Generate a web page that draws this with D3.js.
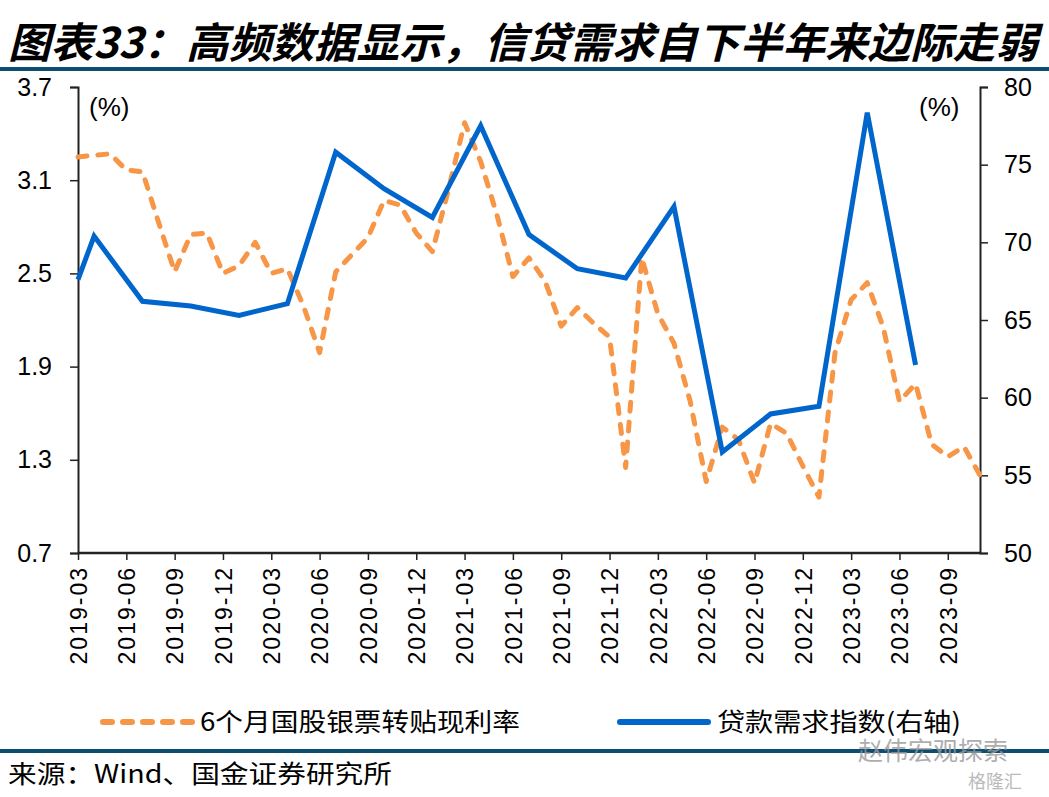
<!DOCTYPE html>
<html><head><meta charset="utf-8">
<script src="https://cdn.jsdelivr.net/npm/d3@7/dist/d3.min.js"></script>
<style>
html,body{margin:0;padding:0;background:#fff;}
svg{display:block;}
</style></head>
<body>
<svg id="c" width="1049" height="797"></svg>
<script>
const months = ["2019-03","2019-04","2019-05","2019-06","2019-07","2019-08","2019-09","2019-10","2019-11","2019-12",
"2020-01","2020-02","2020-03","2020-04","2020-05","2020-06","2020-07","2020-08","2020-09","2020-10","2020-11","2020-12",
"2021-01","2021-02","2021-03","2021-04","2021-05","2021-06","2021-07","2021-08","2021-09","2021-10","2021-11","2021-12",
"2022-01","2022-02","2022-03","2022-04","2022-05","2022-06","2022-07","2022-08","2022-09","2022-10","2022-11","2022-12",
"2023-01","2023-02","2023-03","2023-04","2023-05","2023-06","2023-07","2023-08","2023-09","2023-10","2023-11"];
const billRate = [3.25,3.26,3.27,3.165,3.155,2.83,2.51,2.75,2.76,2.50,
2.55,2.70,2.50,2.53,2.29,1.99,2.51,2.62,2.73,2.97,2.94,2.76,
2.64,3.04,3.47,3.22,2.88,2.48,2.60,2.45,2.16,2.28,2.18,2.09,
1.25,2.60,2.24,2.05,1.68,1.16,1.51,1.43,1.15,1.535,1.47,1.26,
1.06,1.99,2.33,2.44,2.15,1.675,1.79,1.40,1.32,1.385,1.20];
const loanMonths = ["2019-03","2019-04","2019-07","2019-10","2020-01","2020-04","2020-07","2020-10","2021-01","2021-04",
"2021-07","2021-10","2022-01","2022-04","2022-07","2022-10","2023-01","2023-04","2023-07"];
const loanDemand = [67.6,70.4,66.2,65.9,65.3,66.05,75.8,73.45,71.6,77.5,70.5,68.3,67.7,72.3,56.5,58.95,59.45,78.35,62.1];
const xTickLabels = ["2019-03","2019-06","2019-09","2019-12","2020-03","2020-06","2020-09","2020-12","2021-03","2021-06",
"2021-09","2021-12","2022-03","2022-06","2022-09","2022-12","2023-03","2023-06","2023-09"];
const leftTicks = [0.7,1.3,1.9,2.5,3.1,3.7];
const rightTicks = [50,55,60,65,70,75,80];
const titleText = "图表33：高频数据显示，信贷需求自下半年来边际走弱";
const legendNames = ["6个月国股银票转贴现利率","贷款需求指数(右轴)"];
const sourceText = "来源：Wind、国金证券研究所";

const ORANGE = "#F79646", BLUE = "#0066CC", HEAD = "#0D4D70";
const numFont = "'Liberation Sans', Arial, sans-serif";
const cjkFont = "'Noto Sans CJK SC', sans-serif";

const svg = d3.select("#c");
const L = 78, R = 980, T = 87, B = 553;

const x = d3.scalePoint().domain(months).range([L, R]);
const yL = d3.scaleLinear().domain([0.7, 3.7]).range([B, T]);
const yR = d3.scaleLinear().domain([50, 80]).range([B, T]);

// title
svg.append("text").attr("x", 8).attr("y", 58)
  .attr("font-family", cjkFont).attr("font-weight", 700).attr("font-style", "italic")
  .attr("font-size", 42).attr("fill", "#000")
  .attr("textLength", 1030).attr("lengthAdjust", "spacingAndGlyphs")
  .text(titleText);
svg.append("rect").attr("x", 0).attr("y", 67).attr("width", 1049).attr("height", 4).attr("fill", HEAD);

// axes
const gL = svg.append("g").attr("transform", `translate(${L},0)`)
  .call(d3.axisLeft(yL).tickValues(leftTicks).tickSize(8).tickPadding(6).tickFormat(d3.format(".1f")));
const gR = svg.append("g").attr("transform", `translate(${R},0)`)
  .call(d3.axisRight(yR).tickValues(rightTicks).tickSize(8).tickPadding(16).tickFormat(d3.format("d")));
[gL, gR].forEach(g => {
  g.select(".domain").attr("stroke", "#222").attr("stroke-width", 2);
  g.selectAll(".tick line").attr("stroke", "#222").attr("stroke-width", 1.5);
  g.selectAll("text").attr("font-family", numFont).attr("font-size", 25).attr("fill", "#000");
});
gL.selectAll("text").attr("x", -26);

const gB = svg.append("g").attr("transform", `translate(0,${B})`)
  .call(d3.axisBottom(x).tickValues(xTickLabels).tickSize(7).tickSizeOuter(0));
gB.select(".domain").attr("stroke", "#222").attr("stroke-width", 2.5).attr("d", `M${L},0H${R}`);
gB.selectAll(".tick line").attr("stroke", "#222").attr("stroke-width", 1.5);
gB.selectAll("text")
  .attr("font-family", numFont).attr("font-size", 23).attr("fill", "#000")
  .attr("letter-spacing", 2)
  .attr("transform", "rotate(-90)")
  .attr("text-anchor", "end").attr("dy", "0.36em").attr("x", -13).attr("y", 0);

// unit labels
svg.append("text").attr("x", 89).attr("y", 116).attr("font-family", numFont).attr("font-size", 26).text("(%)");
svg.append("text").attr("x", 919).attr("y", 116).attr("font-family", numFont).attr("font-size", 26).text("(%)");

// lines
const lineL = d3.line().x((d, i) => x(months[i])).y(d => yL(d));
svg.append("path").datum(billRate).attr("d", lineL)
  .attr("fill", "none").attr("stroke", ORANGE).attr("stroke-width", 5)
  .attr("stroke-dasharray", "9,11").attr("stroke-linecap", "round").attr("stroke-linejoin", "round");

const lineR = d3.line().x((d, i) => x(loanMonths[i])).y(d => yR(d));
svg.append("path").datum(loanDemand).attr("d", lineR)
  .attr("fill", "none").attr("stroke", BLUE).attr("stroke-width", 5).attr("stroke-linejoin", "miter");

// legend
const ly = 722;
svg.append("line").attr("x1", 103).attr("x2", 192).attr("y1", ly).attr("y2", ly)
  .attr("stroke", ORANGE).attr("stroke-width", 6).attr("stroke-dasharray", "9,11").attr("stroke-linecap", "round");
svg.append("text").attr("x", 200).attr("y", ly + 9).attr("font-family", cjkFont).attr("font-size", 25)
  .attr("textLength", 320).attr("lengthAdjust", "spacingAndGlyphs").text(legendNames[0]);
svg.append("line").attr("x1", 620).attr("x2", 708).attr("y1", ly).attr("y2", ly)
  .attr("stroke", BLUE).attr("stroke-width", 6).attr("stroke-linecap", "round");
svg.append("text").attr("x", 717).attr("y", ly + 9).attr("font-family", cjkFont).attr("font-size", 25)
  .attr("textLength", 244).attr("lengthAdjust", "spacingAndGlyphs").text(legendNames[1]);

// bottom rule and source
svg.append("rect").attr("x", 0).attr("y", 749).attr("width", 1049).attr("height", 4).attr("fill", HEAD);
svg.append("text").attr("x", 8).attr("y", 783).attr("font-family", cjkFont).attr("font-size", 25)
  .attr("textLength", 384).attr("lengthAdjust", "spacingAndGlyphs").text(sourceText);

// watermarks
svg.append("text").attr("x", 858).attr("y", 760).attr("font-family", cjkFont).attr("font-size", 25)
  .attr("fill", "#9a9a9a").attr("opacity", 0.8).text("赵伟宏观探索");
svg.append("text").attr("x", 968).attr("y", 788).attr("font-family", cjkFont).attr("font-size", 18)
  .attr("fill", "#aaaaaa").attr("opacity", 0.8).text("格隆汇");
</script>
</body></html>
